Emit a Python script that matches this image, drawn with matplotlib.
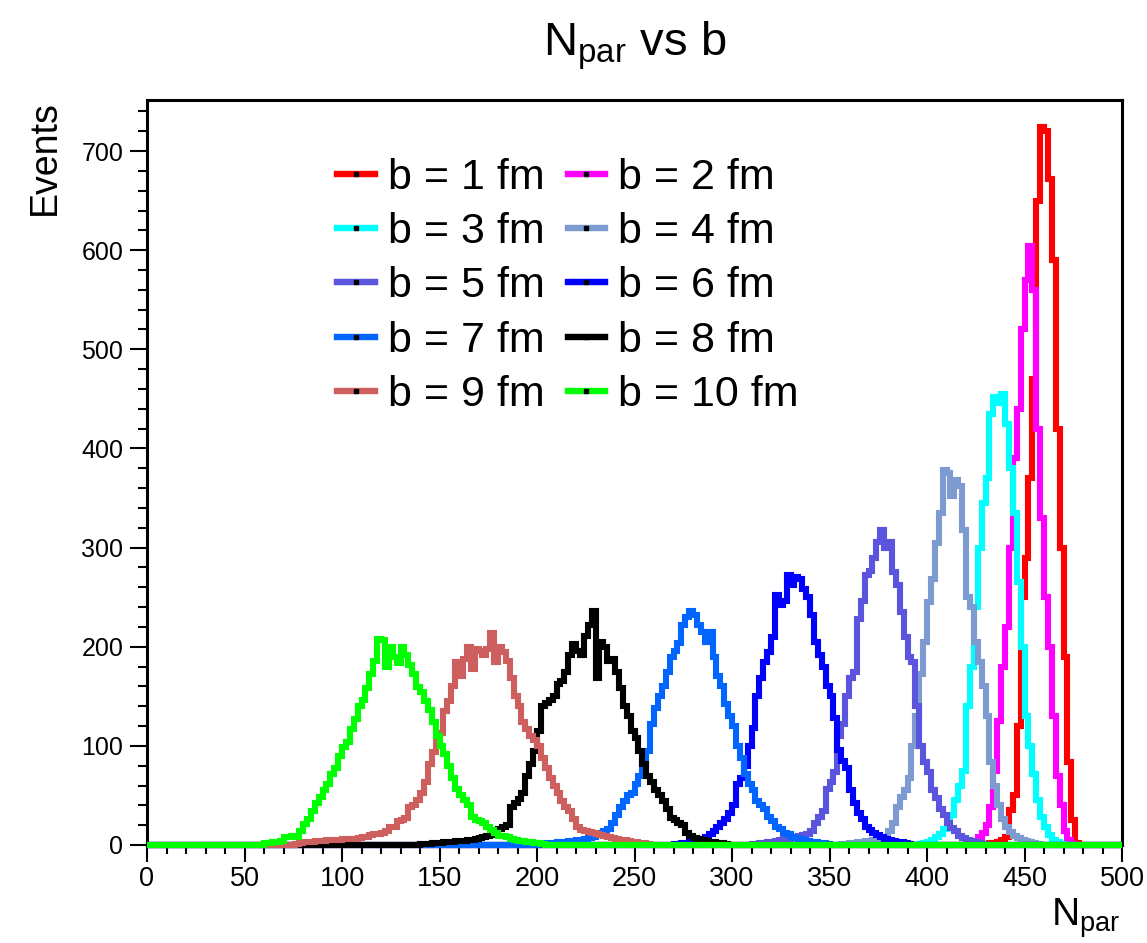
import numpy as np
import matplotlib
matplotlib.use("Agg")
import matplotlib.pyplot as plt
from matplotlib.lines import Line2D
from matplotlib import font_manager

# ---------------- data ----------------
BIN_WIDTH = 2
N_RANGE = (0, 500)

labels = ["b = 1 fm", "b = 2 fm", "b = 3 fm", "b = 4 fm", "b = 5 fm",
          "b = 6 fm", "b = 7 fm", "b = 8 fm", "b = 9 fm", "b = 10 fm"]

colors = ["#FF0000", "#FF00FF", "#00FFFF", "#7D9BD0", "#5A55DC",
          "#0000FF", "#0066FF", "#000000", "#CD5F5F", "#00FF00"]

# first bin (lower edge) of each series and bin contents from there on
b1_start = 430
b1_counts = [1, 2, 2, 3, 5, 8, 35, 50, 120, 250, 290, 370, 470, 650, 724, 720,
             672, 590, 420, 300, 190, 84, 25, 2]

b2_start = 420
b2_counts = [1, 2, 4, 8, 12, 20, 38, 75, 125, 180, 220, 300, 390, 440, 520,
             570, 604, 560, 420, 330, 250, 200, 130, 70, 40, 14, 5, 1]

b3_start = 396
b3_counts = [1, 2, 3, 5, 8, 11, 16, 22, 30, 45, 60, 75, 140, 180, 240, 300,
             345, 370, 435, 452, 446, 455, 425, 380, 335, 265, 200, 130, 100,
             72, 45, 28, 18, 10, 5, 3, 1]

b4_start = 356
b4_counts = [1, 1, 2, 2, 3, 3, 4, 4, 5, 5, 6, 8, 14, 22, 38, 48, 55, 68, 100,
             130, 172, 205, 245, 268, 305, 335, 378, 375, 352, 368, 362, 318,
             250, 240, 205, 185, 160, 130, 84, 60, 40, 26, 18, 13, 9, 7, 5, 4,
             3, 2, 1]

b5_start = 310
b5_counts = [1, 1, 2, 2, 3, 3, 4, 5, 6, 6, 7, 8, 9, 10, 11, 14, 22, 28, 34, 56,
             64, 74, 110, 122, 150, 168, 175, 228, 246, 272, 276, 290, 306, 318,
             300, 306, 275, 262, 235, 210, 190, 185, 140, 100, 84, 74, 55, 47,
             36, 30, 22, 17, 14, 9, 7, 5, 4, 3, 2, 1]

b6_start = 270
b6_counts = [1, 1, 2, 2, 3, 4, 5, 6, 8, 11, 14, 18, 22, 26, 32, 40, 62, 68, 80,
             100, 118, 150, 168, 185, 195, 210, 252, 242, 246, 272, 262, 270,
             268, 258, 250, 232, 205, 192, 180, 160, 150, 128, 96, 85, 78, 55,
             42, 32, 26, 18, 15, 12, 10, 8, 6, 5, 4, 3, 3, 2, 1]

b7_start = 200
b7_counts = [1, 1, 2, 2, 2, 3, 3, 3, 4, 4, 5, 5, 6, 7, 8, 10, 12, 14, 16, 22,
             30, 38, 44, 50, 52, 62, 70, 82, 95, 122, 138, 150, 160, 175, 190,
             196, 204, 222, 230, 236, 232, 222, 215, 205, 215, 190, 170, 160,
             142, 130, 120, 100, 88, 72, 62, 55, 44, 40, 36, 28, 24, 18, 16, 12,
             11, 8, 7, 6, 5, 4, 3, 3, 2, 2, 1]

b8_start = 140
b8_counts = [1, 1, 1, 2, 2, 2, 3, 3, 3, 4, 4, 4, 5, 5, 6, 7, 8, 9, 10, 14, 16,
             18, 20, 38, 42, 46, 52, 70, 82, 95, 115, 140, 143, 146, 150, 162,
             165, 175, 192, 203, 196, 192, 211, 222, 236, 168, 205, 200, 186,
             188, 175, 158, 140, 130, 115, 108, 95, 82, 70, 64, 55, 50, 44, 36,
             27, 25, 22, 20, 12, 9, 7, 6, 5, 4, 3, 3, 2, 2, 1]

b9_start = 76
b9_counts = [1, 2, 3, 3, 3, 4, 4, 4, 5, 5, 5, 5, 6, 6, 6, 6, 7, 8, 8, 10, 11,
             11, 12, 14, 18, 18, 24, 25, 27, 38, 40, 45, 52, 64, 82, 94, 105,
             113, 135, 145, 160, 185, 170, 188, 200, 178, 198, 196, 192, 198,
             214, 185, 200, 195, 186, 168, 150, 140, 124, 117, 110, 106, 100,
             88, 78, 68, 60, 52, 44, 38, 34, 26, 18, 15, 14, 13, 12, 11, 10, 9,
             8, 7, 6, 5, 5, 4, 3, 3, 2, 2, 1]

b10_start = 60
b10_counts = [2, 2, 3, 3, 4, 8, 8, 9, 8, 14, 21, 26, 34, 42, 48, 55, 62, 72, 78,
              90, 99, 104, 117, 127, 140, 146, 158, 172, 186, 208, 207, 180,
              200, 190, 184, 200, 192, 182, 172, 159, 154, 145, 136, 124, 110,
              100, 92, 80, 68, 56, 50, 45, 40, 28, 25, 24, 22, 18, 15, 12, 9, 9,
              8, 6, 5, 4, 4, 3, 3, 2, 2, 1]

x_ticks = [0, 50, 100, 150, 200, 250, 300, 350, 400, 450, 500]
y_ticks = [0, 100, 200, 300, 400, 500, 600, 700]

starts = [b1_start, b2_start, b3_start, b4_start, b5_start,
          b6_start, b7_start, b8_start, b9_start, b10_start]
counts = [b1_counts, b2_counts, b3_counts, b4_counts, b5_counts,
          b6_counts, b7_counts, b8_counts, b9_counts, b10_counts]

# ---------------- fonts ----------------
avail = {f.name for f in font_manager.fontManager.ttflist}
SANS = "Liberation Sans" if "Liberation Sans" in avail else "DejaVu Sans"

plt.rcParams["font.family"] = [SANS, "DejaVu Sans"]
plt.rcParams["mathtext.default"] = "regular"

W, H = 1147, 943
fig = plt.figure(figsize=(W / 100, H / 100), dpi=100)
ax = fig.add_axes([147 / W, 1 - 845 / H, 975 / W, 745 / H])

edges = np.arange(N_RANGE[0], N_RANGE[1] + BIN_WIDTH, BIN_WIDTH)
nbins = len(edges) - 1
for start, vals, col in zip(starts, counts, colors):
    full = np.zeros(nbins)
    i0 = (start - N_RANGE[0]) // BIN_WIDTH
    full[i0:i0 + len(vals)] = vals
    ax.stairs(full, edges, baseline=None, color=col, linewidth=4.4,
              zorder=3, clip_on=False)

ax.set_xlim(N_RANGE)
ax.set_ylim(0, 751.5)

ax.set_xticks(x_ticks)
ax.set_xticklabels([str(t) for t in x_ticks], fontsize=19.5)
ax.set_xticks(np.arange(0, 501, 10), minor=True)
ax.set_yticks(y_ticks)
ax.set_yticklabels([str(t) for t in y_ticks], fontsize=18)
ax.set_yticks(np.arange(0, 741, 20), minor=True)

ax.tick_params(which="major", direction="out", length=12, width=1.5,
               color="black")
ax.tick_params(which="minor", direction="out", length=6.5, width=1.5,
               color="black")
ax.tick_params(axis="y", pad=5)
ax.tick_params(axis="x", pad=3)
for sp in ax.spines.values():
    sp.set_linewidth(2.2)
    sp.set_zorder(2.5)

# legend: column 1 = b=1,3,5,7,9 ; column 2 = b=2,4,6,8,10
order = [0, 2, 4, 6, 8, 1, 3, 5, 7, 9]
handles = [Line2D([], [], color=colors[i], lw=4.6, marker="s", markersize=2.2,
                  markerfacecolor="black", markeredgecolor="black")
           for i in order]
ax.legend(handles, [labels[i] for i in order], ncol=2, loc="upper left",
          bbox_to_anchor=(337 / W, 1 - 158 / H), bbox_transform=fig.transFigure,
          frameon=False, fontsize=31, handlelength=0.88, handletextpad=0.3,
          columnspacing=0.53, labelspacing=0.33, borderpad=0, borderaxespad=0)

fig.text(634.5 / W, 1 - 56 / H, r"N$_{par}$ vs b", ha="center", va="baseline",
         fontsize=34, family=SANS)
fig.text(45 / W, 1 - 100 / H, "Events", rotation=90, ha="center", va="top",
         fontsize=27, family=SANS)
fig.text(1120 / W, 1 - 926 / H, r"N$_{par}$", ha="right", va="baseline",
         fontsize=28, family=SANS)

fig.savefig("out.png", dpi=100, facecolor="white")
